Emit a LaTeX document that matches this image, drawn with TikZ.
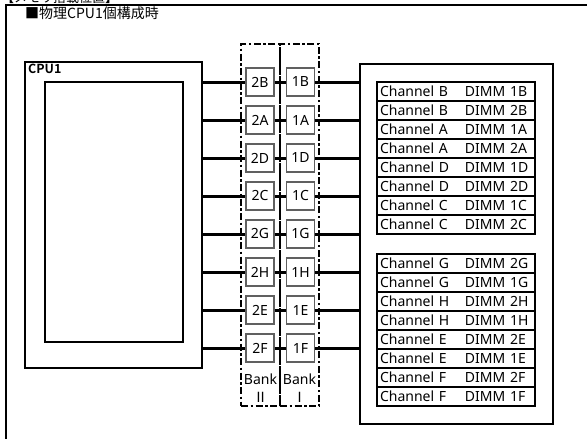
\documentclass[tikz,border=0pt]{standalone}
\usepackage{fontspec}
\setmainfont{Noto Sans}
\newfontfamily\cjk{Noto Sans CJK JP}
\newfontfamily\cjkb{Noto Sans CJK JP Bold}
\usetikzlibrary{positioning,calc}

\begin{document}
\begin{tikzpicture}[x=1pt,y=-1pt,font=\fontsize{14}{18}\selectfont,
 frm/.style={draw,line width=2.5pt,inner sep=0pt},
 slot/.style={draw=gray!75!black,line width=1.2pt,fill=white,minimum width=28pt,minimum height=28pt,inner sep=0pt},
 bank/.style={draw,line width=1.8pt,dash pattern=on 7pt off 2.5pt on 2.5pt off 2.5pt,minimum width=39pt,minimum height=362pt,inner sep=0pt},
 cell/.style={draw,line width=1.8pt,minimum width=158pt,minimum height=19pt,inner sep=0pt,inner xsep=3pt,text width=152pt,align=left},
 wire/.style={line width=3pt}]
\useasboundingbox (0,0) rectangle (587,439);
\begin{scope}
\clip (0,0) rectangle (587,439);
\node[anchor=base west,inner sep=0pt,font=\cjk\fontsize{13}{13}\selectfont] (memo) at (1,2) {【メモリ搭載位置】};
\draw[line width=2.5pt] (590,5) -- (6,5) -- (6,445);
\end{scope}
\node[anchor=west,inner sep=0pt,font=\cjk\fontsize{14}{14}\selectfont] (ttl) at (25,13.5) {■物理CPU1個構成時};
\node[frm,minimum width=177pt,minimum height=306pt] (cpu) at (113.5,215) {};
\node[anchor=north west,inner sep=0pt,font=\cjkb\fontsize{12.5}{12.5}\selectfont] (cpul) at (28,64) {CPU1};
\node[frm,minimum width=138pt,minimum height=260pt] (core) at (114,212) {};
\node[bank] (bk2) at (260.5,225) {};
\node[bank] (bk1) at (299.5,225) {};
\node[align=center,inner sep=0pt] (lb2) at (260.5,388) {Bank\\{\cjk Ⅱ}};
\node[align=center,inner sep=0pt] (lb1) at (299.5,388) {Bank\\{\cjk Ⅰ}};
\node[frm,minimum width=193pt,minimum height=360pt] (dimm) at (456.5,244) {};
\foreach \c [count=\i from 0] in {B,A,D,C,G,H,E,F}{
 \node[slot] (s2\c) at (260,82+38*\i) {2\c};
 \node[slot] (s1\c) at (300.5,82+38*\i) {1\c};
 \draw[wire] (cpu.east |- s2\c) -- (s2\c);
 \draw[wire] (s2\c) -- (s1\c);
 \draw[wire] (s1\c) -- (dimm.west |- s1\c);
}
\foreach \ch/\dm [count=\i from 0] in {B/1B,B/2B,A/1A,A/2A,D/1D,D/2D,C/1C,C/2C}
 \node[cell] (ta\i) at (456,91.5+19*\i) {\makebox[85pt][l]{Channel \ch}DIMM \dm};
\foreach \ch/\dm [count=\i from 0] in {G/2G,G/1G,H/2H,H/1H,E/2E,E/1E,F/2F,F/1F}
 \node[cell] (tb\i) at (456,263.5+19*\i) {\makebox[85pt][l]{Channel \ch}DIMM \dm};
\end{tikzpicture}
\end{document}
